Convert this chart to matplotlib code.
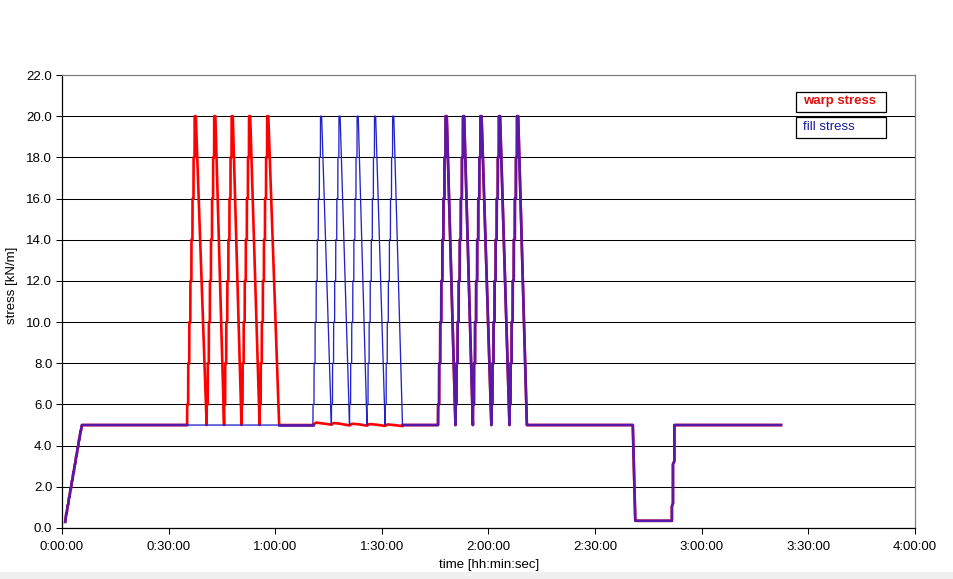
import matplotlib
matplotlib.use("Agg")
import matplotlib.pyplot as plt
from matplotlib.patches import Rectangle

plt.rcParams['font.family'] = ['Liberation Sans', 'DejaVu Sans']

# tiempo en minutos, tension en kN/m
ramp_t = [0.9, 1.2, 1.3, 1.6, 1.7, 2.0, 2.1, 2.4, 2.5, 2.8, 2.9, 3.2, 3.3,
          3.6, 3.7, 4.0, 4.1, 4.4, 4.5, 4.8, 4.9, 5.2, 5.3, 5.6, 5.8]
ramp_v = [0.3, 0.7, 0.7, 1.1, 1.1, 1.5, 1.5, 1.9, 1.9, 2.3, 2.3, 2.7, 2.7,
          3.1, 3.1, 3.5, 3.5, 3.9, 3.9, 4.3, 4.3, 4.7, 4.7, 5.0, 5.0]
base = 5.0
peak = 20.0

# escalones de carga dentro de cada ciclo
step_levels = [6, 8, 10, 12, 14, 16, 18, 20]
step_offsets = [0.0, 0.3, 0.6, 0.9, 1.2, 1.5, 1.8, 2.1]
jump_time = 0.03
peak_offset = 2.45

warp_starts = [35.2, 40.7, 45.6, 50.5, 55.6]
warp_ends = [40.7, 45.6, 50.5, 55.6, 61.1]
fill_starts = [70.6, 75.8, 80.9, 85.8, 90.9]
fill_ends = [75.8, 80.9, 85.8, 90.9, 95.8]
both_starts = [105.8, 110.7, 115.6, 120.8, 125.9]
both_ends = [110.7, 115.6, 120.8, 125.9, 130.8]

# warp durante los ciclos de fill
wobble_t = [70.6, 71.5, 73.3, 75.8, 76.5, 78.3, 80.9, 81.6, 83.3, 85.8,
            86.5, 88.3, 90.9, 91.6, 93.3, 95.8]
wobble_v = [5.0, 5.12, 5.08, 5.02, 5.1, 5.06, 4.98, 5.06, 5.04, 4.97,
            5.05, 5.02, 4.96, 5.03, 5.0, 4.95]

# descarga final y recarga
dip_t = [160.6, 161.3, 171.6, 171.6, 171.9, 171.9, 172.3, 172.3, 202.3]
dip_v = [5.0, 0.35, 0.35, 1.05, 1.2, 3.1, 3.25, 5.0, 5.0]

x_ticks = [0, 30, 60, 90, 120, 150, 180, 210, 240]
x_labels = ['0:00:00', '0:30:00', '1:00:00', '1:30:00', '2:00:00',
            '2:30:00', '3:00:00', '3:30:00', '4:00:00']
y_ticks = [0, 2, 4, 6, 8, 10, 12, 14, 16, 18, 20, 22]


def cycles(starts, ends):
    t, v = [], []
    for s, e in zip(starts, ends):
        t.append(s)
        v.append(base)
        prev = base
        for off, lev in zip(step_offsets, step_levels):
            t += [s + off, s + off + jump_time]
            v += [prev, lev]
            prev = lev
        t += [s + peak_offset, e]
        v += [peak, base]
    return t, v


red_t, red_v = cycles(warp_starts, warp_ends)
blue_t, blue_v = cycles(fill_starts, fill_ends)
both_t, both_v = cycles(both_starts, both_ends)

shared_a_t = ramp_t + [warp_starts[0]]
shared_a_v = ramp_v + [base]
shared_b_t = [warp_ends[-1], fill_starts[0]]
shared_b_v = [base, base]
shared_c_t = [fill_ends[-1]] + both_t + dip_t
shared_c_v = [base] + both_v + dip_v

warp_t = shared_a_t + red_t + shared_b_t + wobble_t + shared_c_t
warp_v = shared_a_v + red_v + shared_b_v + wobble_v + shared_c_v
fill_t = shared_a_t + [fill_starts[0]] + blue_t + shared_c_t
fill_v = shared_a_v + [base] + blue_v + shared_c_v

fig = plt.figure(figsize=(9.54, 5.79), dpi=100)
ax = fig.add_axes([62 / 954, 1 - 528 / 579, (915 - 62) / 954, (528 - 75) / 579])

ax.plot(warp_t, warp_v, color='#FF0000', lw=1.9, zorder=3)
ax.plot(fill_t, fill_v, color='#2323C8', lw=0.95, zorder=4)
for st, sv in [(shared_a_t, shared_a_v), (shared_b_t, shared_b_v), (shared_c_t, shared_c_v)]:
    ax.plot(st, sv, color='#5A18A8', lw=1.9, zorder=5)

ax.set_xlim(0, 240)
ax.set_ylim(0, 22)
ax.set_xticks(x_ticks)
ax.set_xticklabels(x_labels)
ax.set_yticks(y_ticks)
ax.set_yticklabels(['%.1f' % y for y in y_ticks])
ax.tick_params(axis='both', labelsize=9.5, length=4, width=0.75, direction='out', color='black', pad=3)
ax.tick_params(axis='x', pad=5)

ax.grid(axis='y', color='black', lw=0.75)
ax.get_ygridlines()[-1].set_visible(False)
ax.set_axisbelow(True)

for s in ['left', 'bottom']:
    ax.spines[s].set_color('black')
    ax.spines[s].set_linewidth(0.9)
for s in ['top', 'right']:
    ax.spines[s].set_color('#808080')
    ax.spines[s].set_linewidth(0.9)

fig.text(489 / 954, 1 - 565 / 579, 'time [hh:min:sec]', ha='center', va='center', fontsize=9.5)
fig.text(12 / 954, 1 - 285 / 579, 'stress [kN/m]', ha='center', va='center', rotation=90, fontsize=9.5)

# leyenda en cajas
fig.add_artist(Rectangle((796 / 954, 1 - 112 / 579), 90 / 954, 20 / 579, transform=fig.transFigure,
                         facecolor='white', edgecolor='black', lw=0.9))
fig.add_artist(Rectangle((796 / 954, 1 - 138 / 579), 90 / 954, 21 / 579, transform=fig.transFigure,
                         facecolor='white', edgecolor='black', lw=0.9))
fig.text(803 / 954, 1 - 101 / 579, 'warp stress', color='#E01010', fontweight='bold', fontsize=9.5, va='center')
fig.text(803 / 954, 1 - 127 / 579, 'fill stress', color='#1A1A9A', fontsize=9.5, va='center')

# franja gris inferior
fig.add_artist(Rectangle((0, 0), 1, 7 / 579, transform=fig.transFigure, facecolor='#F0F0F0', edgecolor='none'))

fig.savefig('out.png', dpi=100)
